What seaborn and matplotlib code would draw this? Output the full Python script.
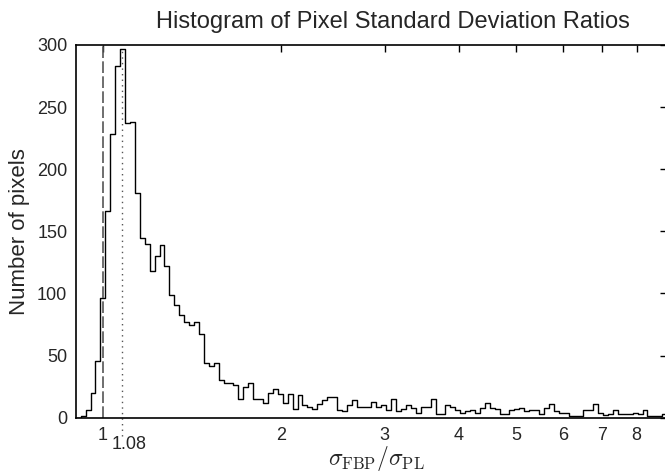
import numpy as np
import pandas as pd
import matplotlib
matplotlib.use("Agg")
import matplotlib.pyplot as plt
import seaborn as sns

# Anzahl Pixel pro Bin (Bins gleich breit in log10, 120 Bins pro Dekade)
counts = [0, 1, 6, 20, 46, 96, 166, 228, 283, 297, 237, 238, 181, 145, 140, 118,
          130, 139, 122, 99, 91, 83, 77, 75, 77, 67, 44, 42, 44, 30, 28, 28, 26,
          15, 25, 28, 15, 15, 12, 20, 23, 19, 12, 19, 7, 18, 10, 9, 7, 11, 14,
          17, 17, 6, 5, 10, 14, 9, 9, 9, 13, 9, 10, 6, 15, 5, 7, 10, 8, 4, 9, 9,
          15, 3, 3, 10, 9, 6, 4, 5, 6, 4, 8, 12, 8, 7, 3, 3, 6, 7, 8, 5, 6, 6, 3,
          8, 11, 5, 4, 4, 1, 1, 1, 6, 6, 11, 4, 2, 3, 6, 3, 3, 3, 4, 3, 6, 1, 1,
          1, 3, 3]
edge_lo = 0.918          # untere Kante von Bin 0
bins_per_decade = 120
first_bin = -1

x_ticks = [1, 2, 3, 4, 5, 6, 7, 8]
y_ticks = [0, 50, 100, 150, 200, 250, 300]
ref_ratio = 1.08

# Bin-Kanten (in log10) und -Mitten
idx = np.arange(first_bin, first_bin + len(counts))
log_edges = np.log10(edge_lo) + np.append(idx, idx[-1] + 1) / bins_per_decade
centers = 10 ** (np.log10(edge_lo) + (idx + 0.5) / bins_per_decade)
df = pd.DataFrame({"ratio": centers, "n": counts})

sns.set_style("white")
plt.rcParams["font.family"] = ["Liberation Sans", "DejaVu Sans"]
plt.rcParams["mathtext.fontset"] = "cm"

fig = plt.figure(figsize=(6.65, 4.74), dpi=100)
ax = fig.add_axes([0.1137, 0.1188, 0.8893, 0.7863])

sns.histplot(data=df, x="ratio", weights="n", bins=list(log_edges), log_scale=True,
             element="step", fill=False, color="black", linewidth=1.0, ax=ax)

# Referenzlinien
ax.plot([1, 1], [0, 300], color="#555555", linewidth=1.2, dashes=(7, 2))
ax.plot([ref_ratio, ref_ratio], [-15, max(counts)], color="#555555",
        linewidth=1.0, linestyle=(0, (1, 3)), clip_on=False)

ax.set_xlim(0.9, 9)
ax.set_ylim(0, 300)
ax.set_xticks(x_ticks)
ax.set_xticklabels([str(t) for t in x_ticks])
ax.xaxis.set_minor_locator(matplotlib.ticker.NullLocator())
ax.set_yticks(y_ticks)

ax.tick_params(axis="both", which="major", direction="in", length=5, width=1,
               labelsize=13, top=True, right=True, color="black")
ax.tick_params(axis="x", pad=7)
ax.tick_params(axis="y", pad=6)

for s in ax.spines.values():
    s.set_color("black")
    s.set_linewidth(1.2)

ax.annotate("1.08", xy=(ref_ratio, 0), xycoords=("data", "axes fraction"),
            xytext=(4.5, -13.5), textcoords="offset points",
            ha="center", va="top", fontsize=13)

ax.set_xlabel(r"$\sigma_{\mathrm{FBP}}/\sigma_{\mathrm{PL}}$", fontsize=17)
ax.xaxis.set_label_coords(0.508, -0.071)
ax.xaxis.label.set_va("top")
ax.set_ylabel("Number of pixels", fontsize=16, labelpad=5)
ax.set_title("Histogram of Pixel Standard Deviation Ratios", fontsize=17, pad=12,
             x=0.537)

plt.savefig("out.png", dpi=100)
plt.close()
